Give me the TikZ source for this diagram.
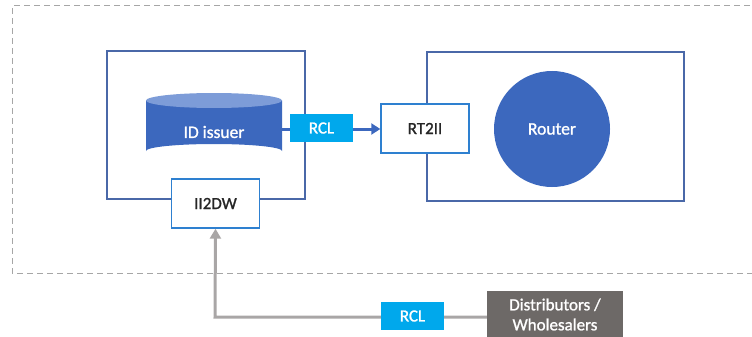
\documentclass[tikz,border=0pt]{standalone}
\usepackage{fontspec}
\setmainfont{Carlito}[FakeBold=1.2, AutoFakeBold=false]
\newfontfamily\labelfont{Carlito}[FakeBold=1.2, UprightFeatures={FakeBold=1.2}]
\usetikzlibrary{arrows.meta}
\definecolor{frameblue}{HTML}{4A68A8}
\definecolor{portblue}{HTML}{2E80D0}
\definecolor{dbblue}{HTML}{3C68BE}
\definecolor{dbtop}{HTML}{7D9CD8}
\definecolor{rclcyan}{HTML}{00A8EC}
\definecolor{distgray}{HTML}{6D6967}
\definecolor{linkgray}{HTML}{A9A6A6}
\definecolor{dashgray}{HTML}{A6A6A6}
\tikzset{
  frame/.style={draw=frameblue, line width=1.2pt, fill=white},
  port/.style={draw=portblue, line width=1.4pt, fill=white, minimum width=88pt, minimum height=49pt, inner sep=0pt, font=\labelfont\fontsize{17}{20}\selectfont, text=black!85},
  label/.style={fill=rclcyan, text=white, minimum width=63pt, minimum height=28pt, inner sep=0pt, font=\labelfont\fontsize{17}{20}\selectfont},
}
\begin{document}
\begin{tikzpicture}[x=1pt, y=-1pt]
\useasboundingbox (0,0) rectangle (752,337);
% outer dashed boundary, open on the right
\draw[dashgray, line width=1pt, dash pattern=on 6pt off 4pt]
  (760,6) -- (12,6) -- (12,273) -- (760,273);
% issuer and router frames
\draw[frame] (107,51) rectangle (305,199);
\draw[frame] (427,52) rectangle (684,201);
% ID issuer database cylinder
\fill[dbblue] (146,100.5) -- (146,151) arc[start angle=180, end angle=360, x radius=68, y radius=7] -- (282,100.5) -- cycle;
\fill[dbtop] (214,100.5) ellipse[x radius=68, y radius=7.5];
\node[text=white, font=\labelfont\fontsize{17.5}{20}\selectfont] (issuer) at (214,132) {ID issuer};
\coordinate (dbright) at (282,129);
% router
\node[circle, fill=dbblue, minimum size=116pt, inner sep=0pt, text=white, font=\labelfont\fontsize{17.5}{20}\selectfont] (router) at (552,129) {Router};
% ports
\node[port] (rt2ii) at (425,128.5) {RT2II};
\node[port] (ii2dw) at (215.5,203.5) {II2DW};
% issuer to router link
\draw[dbblue, line width=3pt, -{Triangle[length=9pt, width=11pt]}] (dbright) -- (rt2ii.west |- dbright);
\node[label] (rcltop) at (321.5,128) {RCL};
% distributors
\node[fill=distgray, text=white, minimum width=136pt, minimum height=47pt, inner sep=0pt, align=center, font=\labelfont\fontsize{17}{20}\selectfont] (dist) at (555,314.5) {Distributors /\\Wholesalers};
\coordinate (corner) at (215,317);
\draw[linkgray, line width=3pt, -{Triangle[length=10pt, width=11pt]}] (dist.west |- corner) -- (corner) -- (ii2dw.south);
\node[label] (rclbottom) at (412.5,316) {RCL};
\end{tikzpicture}
\end{document}
